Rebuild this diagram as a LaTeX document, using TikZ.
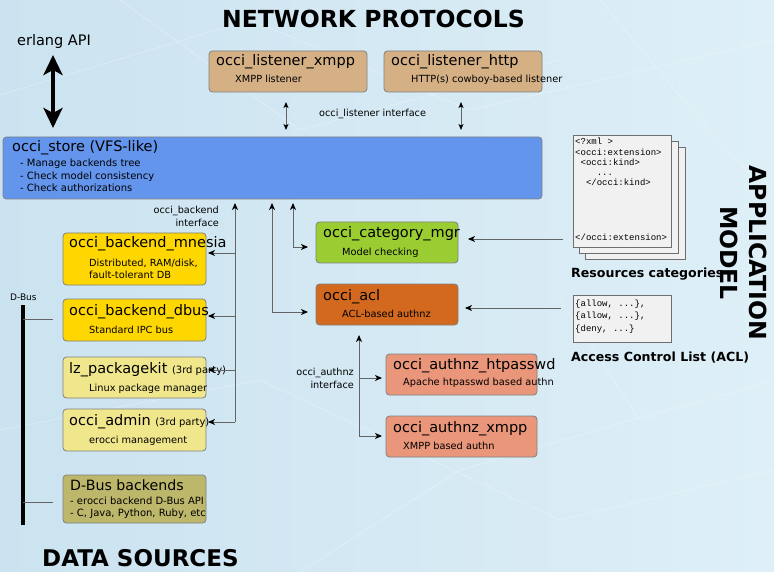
\documentclass[tikz,border=0pt]{standalone}
\usepackage{fontspec}
\setmainfont{DejaVu Sans}
\setmonofont{Liberation Mono}
\usetikzlibrary{arrows.meta}

\definecolor{bgl}{RGB}{203,227,240}
\definecolor{bgr}{RGB}{222,239,247}
\definecolor{tanbox}{RGB}{213,176,132}
\definecolor{storeblue}{RGB}{100,149,237}
\definecolor{catgreen}{RGB}{154,205,50}
\definecolor{aclorange}{RGB}{210,105,30}
\definecolor{authsalmon}{RGB}{233,150,122}
\definecolor{goldbox}{RGB}{255,215,0}
\definecolor{khakibox}{RGB}{240,230,140}
\definecolor{darkkhakibox}{RGB}{189,183,107}
\definecolor{boxline}{RGB}{128,128,128}
\definecolor{linegray}{RGB}{100,100,100}
\definecolor{sheet}{RGB}{241,241,241}
\definecolor{sheetline}{RGB}{110,110,110}

\tikzset{
  box/.style={draw=boxline, line width=0.8pt, rounded corners=3.5pt,
    anchor=north west, inner sep=0pt, outer sep=0pt},
  ttl/.style={anchor=base west, inner sep=0pt, font=\fontsize{14.5}{17}\selectfont},
  sub/.style={anchor=base west, inner sep=0pt, font=\fontsize{9.8}{11}\selectfont},
  lbl/.style={inner sep=0pt, font=\fontsize{9.7}{11}\selectfont},
  headline/.style={anchor=base west, inner sep=0pt, font=\bfseries\fontsize{23.5}{28}\selectfont},
  caption/.style={anchor=base west, inner sep=0pt, font=\bfseries\fontsize{12.6}{15}\selectfont},
  code/.style={anchor=base west, inner sep=0pt, font=\ttfamily\fontsize{9}{10}\selectfont},
  paper/.style={draw=sheetline, fill=sheet, line width=0.8pt},
  tip/.tip={Stealth[length=7pt, width=6pt, inset=2pt, black]},
  conn/.style={draw=linegray, line width=0.9pt, -tip},
  bconn/.style={draw=linegray, line width=0.9pt, tip-tip},
  dconn/.style={draw=linegray, line width=0.9pt,
    {Stealth[length=6pt, width=5pt, inset=1.5pt, black]}-{Stealth[length=6pt, width=5pt, inset=1.5pt, black]}},
  bigdouble/.style={draw=black, line width=4.5pt,
    {Stealth[length=20pt, width=19pt, inset=5pt]}-{Stealth[length=20pt, width=19pt, inset=5pt]}},
}

\begin{document}
\begin{tikzpicture}[x=1pt, y=-1pt]
\useasboundingbox (0,0) rectangle (774,572);

% background
\shade[left color=bgl, right color=bgr] (0,0) rectangle (774,572);
\begin{scope}[white, line width=0.6pt, opacity=0.35]
  \draw (0,95) -- (250,20) -- (470,110) -- (774,40);
  \draw (120,0) -- (300,130) -- (560,60);
  \draw (600,0) -- (700,120) -- (774,200);
  \draw (0,430) -- (260,380) -- (560,520) -- (774,470);
  \draw (300,572) -- (460,470) -- (700,400);
  \draw (560,300) -- (640,420) -- (774,380);
\end{scope}

% headings
\node[headline] (hnet) at (222,28) {NETWORK PROTOCOLS};
\node[headline, font=\bfseries\fontsize{23}{28}\selectfont] (hdata) at (42,566) {DATA SOURCES};
\node[inner sep=0pt, rotate=-90, align=center,
      font=\bfseries\fontsize{23.5}{29}\selectfont] (happ) at (743.5,253) {APPLICATION\\MODEL};

% erlang API
\node[anchor=base west, inner sep=0pt, font=\fontsize{14.5}{17}\selectfont] (erl) at (17,46) {erlang API};
\coordinate (erltop) at (53,55);
\coordinate (erlbot) at (53,128);
\draw[bigdouble] (erltop) -- (erlbot);

% listeners
\node[box, fill=tanbox, minimum width=158pt, minimum height=41pt] (lx) at (209,51) {};
\node[ttl] (lxt) at (216,66) {occi\_listener\_xmpp};
\node[sub] (lxs) at (235,83) {XMPP listener};
\node[box, fill=tanbox, minimum width=158pt, minimum height=41pt] (lh) at (384,51) {};
\node[ttl] (lht) at (391,66) {occi\_listener\_http};
\node[sub] (lhs) at (411,83) {HTTP(s) cowboy-based listener};
\node[lbl, anchor=base west] (lif) at (319,117) {occi\_listener interface};

% store
\node[box, fill=storeblue, minimum width=539pt, minimum height=62pt] (store) at (3,137) {};
\node[ttl] (stt) at (12,152) {occi\_store (VFS-like)};
\node[sub, font=\fontsize{10}{11}\selectfont] (st1) at (20,167) {- Manage backends tree};
\node[sub, font=\fontsize{10}{11}\selectfont] (st2) at (20,179.5) {- Check model consistency};
\node[sub, font=\fontsize{10}{11}\selectfont] (st3) at (20,192) {- Check authorizations};

\draw[dconn] ([yshift=-10pt]lx.south -| 286,0) -- ([yshift=7pt]store.north -| 286,0);
\draw[dconn] ([yshift=-10pt]lh.south -| 461,0) -- ([yshift=7pt]store.north -| 461,0);

% backends
\node[box, fill=goldbox, minimum width=143pt, minimum height=52pt] (mn) at (63,233) {};
\node[ttl] (mnt) at (69,248) {occi\_backend\_mnesia};
\node[sub] (mns1) at (89,266) {Distributed, RAM/disk,};
\node[sub] (mns2) at (89,279) {fault-tolerant DB};

\node[box, fill=goldbox, minimum width=143pt, minimum height=42pt] (db) at (63,299) {};
\node[ttl] (dbt) at (69,315) {occi\_backend\_dbus};
\node[sub] (dbs) at (89,333) {Standard IPC bus};

\node[box, fill=khakibox, minimum width=143pt, minimum height=41pt] (pk) at (63,357) {};
\node[ttl] (pkt) at (69,373) {lz\_packagekit {\fontsize{10}{12}\selectfont (3rd party)}};
\node[sub] (pks) at (89,391) {Linux package manager};

\node[box, fill=khakibox, minimum width=143pt, minimum height=42pt] (adm) at (63,409) {};
\node[ttl] (admt) at (69,425) {occi\_admin {\fontsize{10}{12}\selectfont (3rd party)}};
\node[sub] (adms) at (89,443) {erocci management};

\node[box, fill=darkkhakibox, minimum width=143pt, minimum height=48pt] (dbb) at (63,475) {};
\node[ttl, font=\fontsize{14.2}{17}\selectfont] (dbbt) at (70,490) {D-Bus backends};
\node[sub, font=\fontsize{10}{11}\selectfont] (dbb1) at (70,504) {- erocci backend D-Bus API};
\node[sub, font=\fontsize{10}{11}\selectfont] (dbb2) at (70,516) {- C, Java, Python, Ruby, etc};

% backend interface
\node[lbl, anchor=base east] (bif1) at (219,214) {occi\_backend};
\node[lbl, anchor=base east] (bif2) at (219,226.5) {interface};
\coordinate (bspine) at (235,422);
\coordinate (bj1) at (235,253);
\coordinate (bj2) at (235,316);
\coordinate (bj3) at (235,370);
\draw[conn] (bspine) -- ([yshift=-4pt]store.south -| bspine);
\draw[conn] (bj1) -- ([xshift=2pt]mn.east |- bj1);
\draw[conn] (bj2) -- ([xshift=2pt]db.east |- bj2);
\draw[conn] (bj3) -- ([xshift=2pt]pk.east |- bj3);
\draw[conn] (bspine) -- ([xshift=2pt]adm.east |- bspine);

% D-Bus
\node[anchor=base west, inner sep=0pt, font=\fontsize{9}{11}\selectfont] (dbl) at (10,300) {D-Bus};
\coordinate (bustop) at (23,305);
\coordinate (busbot) at (23,525);
\draw[black, line width=3.5pt] (bustop) -- (busbot);
\coordinate (bus1) at (23,319);
\coordinate (bus2) at (23,502);
\draw[linegray, line width=0.8pt] (bus1) -- ([xshift=-10pt]db.west |- bus1);
\draw[linegray, line width=0.8pt] (bus2) -- ([xshift=-10pt]dbb.west |- bus2);

% category manager and ACL
\node[box, fill=catgreen, minimum width=142pt, minimum height=41pt] (cat) at (316,222) {};
\node[ttl] (catt) at (323,238) {occi\_category\_mgr};
\node[sub] (cats) at (342,256) {Model checking};

\node[box, fill=aclorange, minimum width=142pt, minimum height=41pt] (acl) at (316,284) {};
\node[ttl] (aclt) at (323,300) {occi\_acl};
\node[sub] (acls) at (342,317) {ACL-based authnz};

\coordinate (aclbot) at (272,312);
\coordinate (catbot) at (293,247);
\draw[bconn] ([yshift=-4pt]store.south -| aclbot) -- (aclbot) -- ([xshift=-8pt]acl.west |- aclbot);
\draw[bconn] ([yshift=-4pt]store.south -| catbot) -- (catbot) -- ([xshift=-8pt]cat.west |- catbot);

% authnz modules
\node[box, fill=authsalmon, minimum width=151pt, minimum height=41pt] (htp) at (386,354) {};
\node[ttl] (htpt) at (393,369) {occi\_authnz\_htpasswd};
\node[sub] (htps) at (403,385) {Apache htpasswd based authn};

\node[box, fill=authsalmon, minimum width=151pt, minimum height=41pt] (axm) at (386,416) {};
\node[ttl] (axmt) at (393,432) {occi\_authnz\_xmpp};
\node[sub] (axms) at (403,449) {XMPP based authn};

\node[lbl, anchor=base east] (aif1) at (354,375) {occi\_authnz};
\node[lbl, anchor=base east] (aif2) at (354,388) {interface};
\coordinate (aspine) at (359,436);
\coordinate (aj1) at (359,378);
\draw[conn] (aspine) -- ([yshift=-10pt]acl.south -| aspine);
\draw[conn] (aj1) -- ([xshift=-4pt]htp.west |- aj1);
\draw[conn] (aspine) -- ([xshift=-4pt]axm.west |- aspine);

% resource category documents
\draw[paper] (585,147) rectangle (685,259);
\draw[paper] (579,141) rectangle (678,253);
\node[paper, anchor=north west, minimum width=98pt, minimum height=112pt, inner sep=0pt] (xmldoc) at (573,135) {};
\node[code] (x1) at (575,145) {<?xml >};
\node[code] (x2) at (575,155.5) {<occi:extension>};
\node[code] (x3) at (575,165.5) {~<occi:kind>};
\node[code] (x4) at (575,175.5) {~~~~...};
\node[code] (x5) at (575,185.5) {~~</occi:kind>};
\node[code] (x6) at (575,241) {</occi:extension>};
\node[caption] (rescap) at (571,277) {Resources categories};
\draw[conn] ([xshift=-10pt]xmldoc.west |- 0,239) -- ([xshift=10pt]cat.east |- 0,239);

% access control list
\node[paper, anchor=north west, minimum width=98pt, minimum height=47pt, inner sep=0pt] (acllist) at (573,295) {};
\node[code] (a1) at (575,306) {\{allow, ...\},};
\node[code] (a2) at (575,318.5) {\{allow, ...\},};
\node[code] (a3) at (575,331) {\{deny, ...\}};
\node[caption] (aclcap) at (571,361) {Access Control List (ACL)};
\draw[conn] ([xshift=-12pt]acllist.west |- 0,308) -- ([xshift=7pt]acl.east |- 0,308);

\end{tikzpicture}
\end{document}
